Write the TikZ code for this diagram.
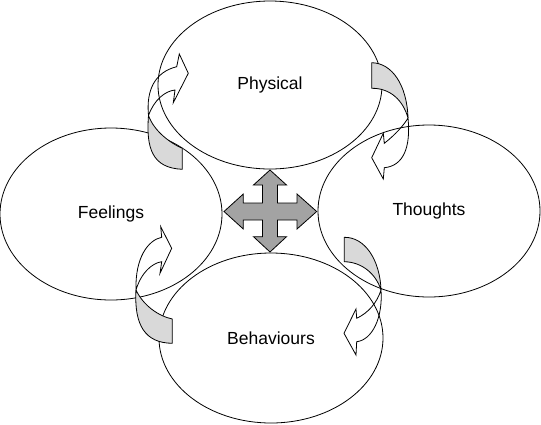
\documentclass[tikz,border=0pt]{standalone}
\usepackage{fontspec}
\setmainfont{Liberation Sans}
\usetikzlibrary{shapes.geometric}
\definecolor{crossgray}{gray}{0.64}
\definecolor{backgray}{gray}{0.85}
\begin{document}
\begin{tikzpicture}[x=1pt,y=-1pt,
  bubble/.style={ellipse, draw, line width=0.8pt, inner sep=0pt, font=\fontsize{17.5}{20}\selectfont},
  ribbonback/.style={fill=backgray, draw, line width=0.8pt, line join=round},
  ribbonfront/.style={draw, line width=0.8pt, line join=miter},
  crossarrow/.style={fill=crossgray, draw, line width=0.8pt, line join=miter}]
\useasboundingbox (0,0) rectangle (541,424);

% ellipses
\node[bubble, minimum width=224pt, minimum height=168pt] (physical) at (270,85) {Physical};
\node[bubble, minimum width=222pt, minimum height=172pt] (feelings) at (111,214) {Feelings};
\node[bubble, minimum width=222pt, minimum height=172pt] (thoughts) at (429,211) {Thoughts};
\node[bubble, minimum width=224pt, minimum height=170pt] (behaviours) at (271,338) {Behaviours};

% central four-way arrow
\draw[crossarrow] (270,170) -- (286.5,185) -- (277.5,185) -- (277.5,203) -- (297,203) -- (297,194)
  -- (316.7,211.5) -- (297,229) -- (297,220) -- (277.5,220) -- (277.5,236.7) -- (286.5,236.7)
  -- (270,252) -- (253.5,236.7) -- (262.5,236.7) -- (262.5,220) -- (243.3,220) -- (243.3,229)
  -- (224,211.5) -- (243.3,194) -- (243.3,203) -- (262.5,203) -- (262.5,185) -- (253.5,185) -- cycle;

% arrow 1 (Feelings -> Physical)
\draw[ribbonback] (148.5,115.5) .. controls (146,148) and (152,168) .. (182.3,169.3) -- (182.3,148.3)
  .. controls (170,143) and (154,131) .. (148.5,115.5) -- cycle;
\draw[ribbonfront] (148.5,115.5) .. controls (146,90) and (155,72) .. (176.7,66.7) -- (179.3,54)
  -- (188.3,73.3) -- (173.3,102.7) -- (175,90) .. controls (165,91) and (154,100) .. (148.5,115.5) -- cycle;

% arrow 2 (Physical -> Thoughts)
\draw[ribbonback] (408,118) .. controls (407,85) and (392,63) .. (371.7,62.7) -- (371.7,88.3)
  .. controls (390,88) and (403,100) .. (408,118) -- cycle;
\draw[ribbonfront] (408,118) .. controls (411,148) and (403,166) .. (384.3,167.7) -- (383.3,179)
  -- (371.7,157.7) -- (383.3,133.3) -- (384.3,143.3) .. controls (395,135) and (404,125) .. (408,118) -- cycle;

% arrow 3 (Behaviours -> Feelings)
\draw[ribbonback] (136,290) .. controls (134,325) and (145,343) .. (172.3,343.3) -- (172.3,319)
  .. controls (158,316) and (143,305) .. (136,290) -- cycle;
\draw[ribbonfront] (136,290) .. controls (135,258) and (148,240) .. (161.7,237.3) -- (160.7,226.7)
  -- (171.7,248.3) -- (160,273.3) -- (161.7,261.7) .. controls (152,263) and (141,273) .. (136,290) -- cycle;

% arrow 4 (Thoughts -> Behaviours)
\draw[ribbonback] (381,290) .. controls (380,260) and (365,237) .. (344.3,237.3) -- (344.3,261.7)
  .. controls (362,262) and (376,274) .. (381,290) -- cycle;
\draw[ribbonfront] (381,290) .. controls (383,318) and (372,340) .. (356.7,341.7) -- (356,355)
  -- (344,333.3) -- (356,309) -- (356.7,318.3) .. controls (368,313) and (377,303) .. (381,290) -- cycle;
\end{tikzpicture}
\end{document}
